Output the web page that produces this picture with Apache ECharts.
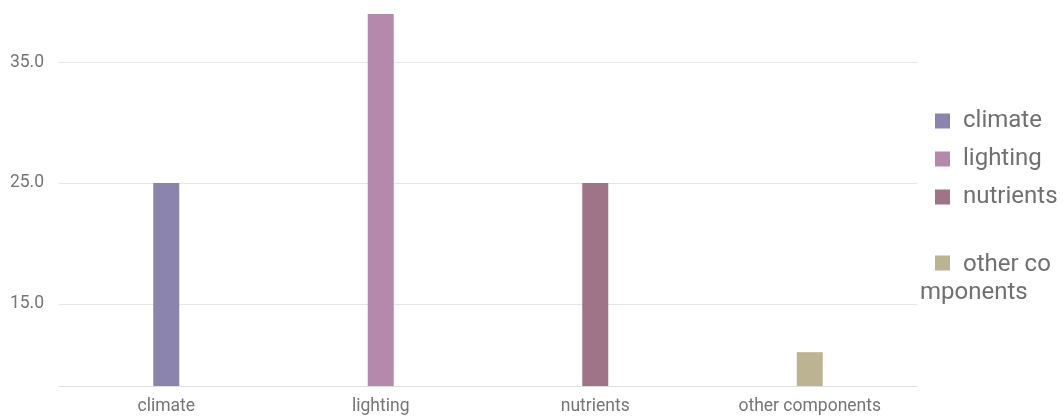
<!DOCTYPE html>
<html>
<head>
<meta charset="utf-8">
<script src="https://cdn.jsdelivr.net/npm/echarts@6/dist/echarts.min.js"></script>
<style>html,body{margin:0;padding:0;background:#fff;}#chart{width:1063px;height:416px;}</style>
</head>
<body>
<div id="chart"></div>
<script>
const categories = ['climate', 'lighting', 'nutrients', 'other components'];
const seriesNames = ['climate', 'lighting', 'nutrients', 'other components'];
const legendLabels = ['{a|climate}', '{a|lighting}', '{a|nutrients}', '{p|other co}\n{b|mponents}'];
const values = [25, 39, 25, 11];
const colors = ['#8b84ad', '#b489ac', '#9f7489', '#bcb392'];
const yTicks = [15, 25, 35];

const chart = echarts.init(document.getElementById('chart'));
const series = seriesNames.map((name, i) => ({
  name: name,
  type: 'bar',
  stack: 'all',
  barWidth: 26,
  itemStyle: { color: colors[i] },
  data: categories.map((c, j) => (j === i ? values[i] : '-'))
}));
const legendFont = { fontSize: 24, color: '#707070', lineHeight: 28, fontFamily: 'Roboto' };
chart.setOption({
  animation: false,
  textStyle: { fontFamily: 'Roboto' },
  grid: { left: 59, right: 146, top: 14, bottom: 30, outerBoundsMode: 'none' },
  legend: {
    orient: 'vertical',
    left: 915,
    top: 102,
    itemWidth: 15,
    itemHeight: 15,
    itemGap: 10,
    icon: 'rect',
    formatter: name => legendLabels[seriesNames.indexOf(name)],
    textStyle: Object.assign({}, legendFont, {
      rich: {
        a: Object.assign({}, legendFont, { padding: [0, 0, 0, 8] }),
        p: Object.assign({}, legendFont, { lineHeight: 56, verticalAlign: 'bottom', padding: [0, 0, 0, 8] }),
        b: Object.assign({}, legendFont, { lineHeight: 28, verticalAlign: 'bottom', padding: [0, 0, 0, -35] })
      }
    }),
    data: seriesNames
  },
  xAxis: {
    type: 'category',
    data: categories,
    axisLine: { lineStyle: { color: '#e0e0e0' } },
    axisTick: { show: false },
    axisLabel: { fontSize: 17.5, color: '#757575', margin: 12, fontFamily: 'Roboto' }
  },
  yAxis: {
    type: 'value',
    min: 8.2,
    max: 39,
    axisLine: { show: false },
    axisTick: { show: false, customValues: yTicks },
    axisLabel: { fontSize: 17.5, color: '#757575', margin: 15, customValues: yTicks, formatter: v => v.toFixed(1), fontFamily: 'Roboto' },
    splitLine: { lineStyle: { color: '#e6e6e6' } }
  },
  series: series
});
</script>
</body>
</html>
